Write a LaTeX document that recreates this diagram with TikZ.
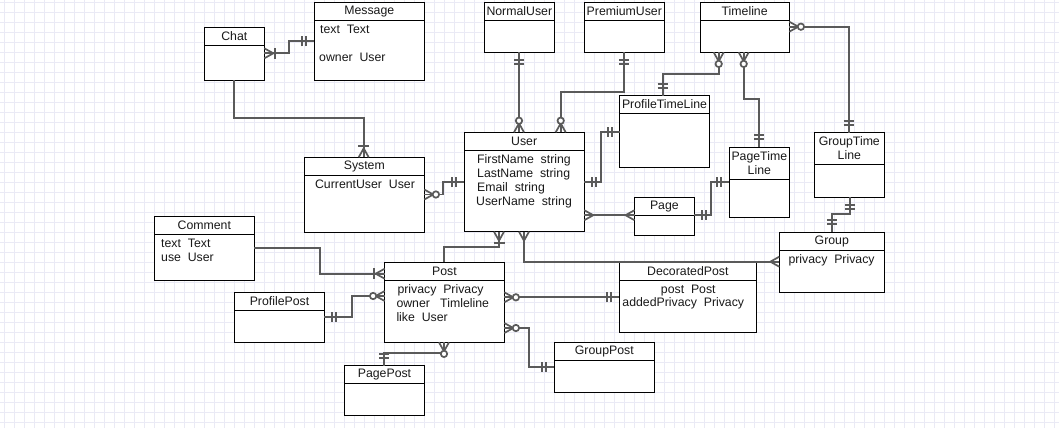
\documentclass[tikz,border=0pt]{standalone}
\usepackage{fontspec}
\setmainfont{Liberation Sans}
\definecolor{cgray}{RGB}{90,90,90}
\definecolor{gridc}{RGB}{234,234,245}
\definecolor{txtc}{RGB}{25,25,25}
\tikzset{
  ebox/.style={draw=black, line width=1bp, fill=white, inner sep=0pt, outer sep=0pt},
  eline/.style={draw=black, line width=1bp},
  etitle/.style={font=\fontsize{12.3bp}{14bp}\selectfont, text=txtc, inner sep=0pt, align=center},
  etext/.style={font=\fontsize{12.3bp}{14bp}\selectfont, text=txtc, inner sep=0pt, text height=8.8bp, text depth=0pt},
  conn/.style={draw=cgray, line width=1.7bp},
  gridl/.style={draw=gridc, line width=0.6bp},
}
% name, x1, y1, x2, y2, yheader, title
\newcommand{\mkent}[7]{%
  \pgfmathsetmacro{\entw}{#4-#2}%
  \pgfmathsetmacro{\enth}{#5-#3}%
  \pgfmathsetmacro{\entcx}{(#2+#4)/2}%
  \pgfmathsetmacro{\entcy}{-(#3+#6)/2}%
  \node[ebox, minimum width=\entw bp, minimum height=\enth bp, anchor=north west] (#1) at (#2,-#3) {};
  \draw[eline] (#2,-#6) -- (#4,-#6);
  \node[etitle] (#1-t) at (\entcx,\entcy) {#7};
}
\newcommand{\mkmany}[2]{\draw[conn,shift={(#1)},rotate=#2] (0,5) -- (9,0) -- (0,-5);}
\newcommand{\mkonemany}[2]{\mkmany{#1}{#2}\draw[conn,shift={(#1)},rotate=#2] (11,5.5) -- (11,-5.5);}
\newcommand{\mkzeromany}[2]{\mkmany{#1}{#2}\draw[conn,fill=white,shift={(#1)},rotate=#2] (11.6,0) circle (3.2);}
\newcommand{\mkone}[2]{\draw[conn,shift={(#1)},rotate=#2] (8,5) -- (8,-5) (12,5) -- (12,-5);}
\begin{document}
\begin{tikzpicture}[x=1bp,y=1bp]
\useasboundingbox (0,0) rectangle (1059,-428);
\fill[white] (0,0) rectangle (1059,-428);
\foreach \i in {0,...,105}{\draw[gridl] ({4.7+10*\i},0) -- ({4.7+10*\i},-428);}
\foreach \i in {0,...,42}{\draw[gridl] (0,{-(2.7+10*\i)}) -- (1059,{-(2.7+10*\i)});}

% entities
\mkent{chat}{204.3}{27.3}{264.3}{80.3}{45.3}{Chat}
\mkent{message}{314.3}{2.7}{424.3}{80.3}{20.3}{Message}
\mkent{normaluser}{484.3}{2.7}{554.3}{52.3}{20.3}{NormalUser}
\mkent{premiumuser}{584.3}{2.7}{664.3}{52.3}{20.3}{PremiumUser}
\mkent{timeline}{700}{2.7}{789.3}{52.3}{20.3}{Timeline}
\mkent{profiletl}{619.7}{95.7}{709.3}{167.3}{113.3}{ProfileTimeLine}
\mkent{user}{464}{132.3}{584.3}{231.7}{150.3}{User}
\mkent{system}{304.3}{157.3}{424.3}{232}{175.3}{System}
\mkent{pagetl}{729.3}{147.3}{789.3}{217}{179.3}{PageTime\\Line}
\mkent{grouptl}{814.3}{132.7}{884.3}{197.3}{164.3}{GroupTime\\Line}
\mkent{page}{634.5}{197.3}{694.3}{235}{215.2}{Page}
\mkent{group}{779.3}{232.3}{884.3}{292.3}{250.3}{Group}
\mkent{comment}{154.3}{216.3}{254.3}{280.3}{234.3}{Comment}
\mkent{post}{384.7}{262.3}{504.3}{342.3}{280.3}{Post}
\mkent{profilepost}{234.7}{292.3}{324.3}{342.3}{310.3}{ProfilePost}
\mkent{pagepost}{344.7}{365.7}{424.3}{415}{383.3}{PagePost}
\mkent{decorated}{619.3}{262.3}{756.3}{332}{280.3}{DecoratedPost}
\mkent{grouppost}{554.3}{342.7}{654.3}{392.3}{360.3}{GroupPost}

% attribute texts
\node[etext,anchor=west] (message-a1) at (320,-29) {text\ \ Text};
\node[etext,anchor=west] (message-a2) at (319,-56.7) {owner\ \ User};
\node[etext] (system-a1) at (365,-183.7) {CurrentUser\ \ User};
\node[etext,anchor=west] (user-a1) at (477,-158.7) {FirstName\ \ string};
\node[etext,anchor=west] (user-a2) at (477,-172.7) {LastName\ \ string};
\node[etext,anchor=west] (user-a3) at (477,-186.7) {Email\ \ string};
\node[etext,anchor=west] (user-a4) at (476,-200.7) {UserName\ \ string};
\node[etext,anchor=west] (comment-a1) at (161,-242.7) {text\ \ Text};
\node[etext,anchor=west] (comment-a2) at (161,-256.7) {use\ \ User};
\node[etext,anchor=west] (post-a1) at (397.3,-289) {privacy\ \ Privacy};
\node[etext,anchor=west] (post-a2) at (396.3,-302.7) {owner\ \ \ Timleline};
\node[etext,anchor=west] (post-a3) at (396.3,-316.7) {like\ \ User};
\node[etext,anchor=west] (group-a1) at (788.3,-258.7) {privacy\ \ Privacy};
\node[etext] (decorated-a1) at (688.3,-289) {post\ \ Post};
\node[etext] (decorated-a2) at (683.3,-302) {addedPrivacy\ \ Privacy};

% connectors
\coordinate (p1a) at (chat.east |- 0,-53.3);
\coordinate (p1b) at (message.west |- 0,-41.3);
\draw[conn] (p1a) -- (288.7,-53.3) -- (288.7,-41.3) -- (p1b);
\mkonemany{p1a}{0} \mkone{p1b}{180}

\coordinate (p2a) at (233.7,0 |- chat.south);
\coordinate (p2b) at (363.7,0 |- system.north);
\draw[conn] (p2a) -- (233.7,-117.7) -- (363.7,-117.7) -- (p2b);
\mkonemany{p2b}{90}

\coordinate (p3a) at (system.east |- 0,-194.5);
\coordinate (p3b) at (user.west |- 0,-182);
\draw[conn] (p3a) -- (443.3,-194.5) -- (443.3,-182) -- (p3b);
\mkzeromany{p3a}{0} \mkone{p3b}{180}

\coordinate (p4a) at (519,0 |- normaluser.south);
\coordinate (p4b) at (519,0 |- user.north);
\draw[conn] (p4a) -- (p4b);
\mkone{p4a}{270} \mkzeromany{p4b}{90}

\coordinate (p5a) at (623.7,0 |- premiumuser.south);
\coordinate (p5b) at (560.7,0 |- user.north);
\draw[conn] (p5a) -- (623.7,-91.7) -- (560.7,-91.7) -- (p5b);
\mkone{p5a}{270} \mkzeromany{p5b}{90}

\coordinate (p6a) at (718.7,0 |- timeline.south);
\coordinate (p6b) at (662.7,0 |- profiletl.north);
\draw[conn] (p6a) -- (718.7,-74) -- (662.7,-74) -- (p6b);
\mkzeromany{p6a}{270} \mkone{p6b}{90}

\coordinate (p7a) at (user.east |- 0,-182);
\coordinate (p7b) at (profiletl.west |- 0,-131.7);
\draw[conn] (p7a) -- (601.3,-182) -- (601.3,-131.7) -- (p7b);
\mkone{p7a}{0} \mkone{p7b}{180}

\coordinate (p8a) at (user.east |- 0,-215.2);
\coordinate (p8b) at (page.west |- 0,-215.2);
\draw[conn] (p8a) -- (p8b);
\mkmany{p8a}{0} \mkmany{p8b}{180}

\coordinate (p9a) at (page.east |- 0,-215.2);
\coordinate (p9b) at (pagetl.west |- 0,-181.7);
\draw[conn] (p9a) -- (710.7,-215.2) -- (710.7,-181.7) -- (p9b);
\mkone{p9a}{0} \mkone{p9b}{180}

\coordinate (p10a) at (743.7,0 |- timeline.south);
\coordinate (p10b) at (759,0 |- pagetl.north);
\draw[conn] (p10a) -- (743.7,-99) -- (759,-99) -- (p10b);
\mkzeromany{p10a}{270} \mkone{p10b}{90}

\coordinate (p11a) at (timeline.east |- 0,-26.7);
\coordinate (p11b) at (848.7,0 |- grouptl.north);
\draw[conn] (p11a) -- (848.7,-26.7) -- (p11b);
\mkzeromany{p11a}{0} \mkone{p11b}{90}

\coordinate (p12a) at (849.7,0 |- grouptl.south);
\coordinate (p12b) at (832.3,0 |- group.north);
\draw[conn] (p12a) -- (849.7,-214) -- (832.3,-214) -- (p12b);
\mkone{p12a}{270} \mkone{p12b}{90}

\coordinate (p13a) at (524,0 |- user.south);
\coordinate (p13b) at (group.west |- 0,-261.7);
\draw[conn] (p13a) -- (524,-261.7) -- (p13b);
\mkmany{p13a}{270} \mkmany{p13b}{180}

\coordinate (p14a) at (499,0 |- user.south);
\coordinate (p14b) at (444,0 |- post.north);
\draw[conn] (p14a) -- (499,-246.7) -- (444,-246.7) -- (p14b);
\mkonemany{p14a}{270}

\coordinate (p15a) at (comment.east |- 0,-248);
\coordinate (p15b) at (post.west |- 0,-273.7);
\draw[conn] (p15a) -- (320,-248) -- (320,-273.7) -- (p15b);
\mkonemany{p15b}{180}

\coordinate (p16a) at (profilepost.east |- 0,-317);
\coordinate (p16b) at (post.west |- 0,-296);
\draw[conn] (p16a) -- (352.3,-317) -- (352.3,-296) -- (p16b);
\mkone{p16a}{0} \mkzeromany{p16b}{180}

\coordinate (p17a) at (444,0 |- post.south);
\coordinate (p17b) at (384.3,0 |- pagepost.north);
\draw[conn] (p17a) -- (444,-353.3) -- (384.3,-353.3) -- (p17b);
\mkzeromany{p17a}{270} \mkone{p17b}{90}

\coordinate (p18a) at (post.east |- 0,-297.3);
\coordinate (p18b) at (decorated.west |- 0,-297.3);
\draw[conn] (p18a) -- (p18b);
\mkzeromany{p18a}{0} \mkone{p18b}{180}

\coordinate (p19a) at (post.east |- 0,-328);
\coordinate (p19b) at (grouppost.west |- 0,-366.7);
\draw[conn] (p19a) -- (529,-328) -- (529,-366.7) -- (p19b);
\mkzeromany{p19a}{0} \mkone{p19b}{180}
\end{tikzpicture}
\end{document}
